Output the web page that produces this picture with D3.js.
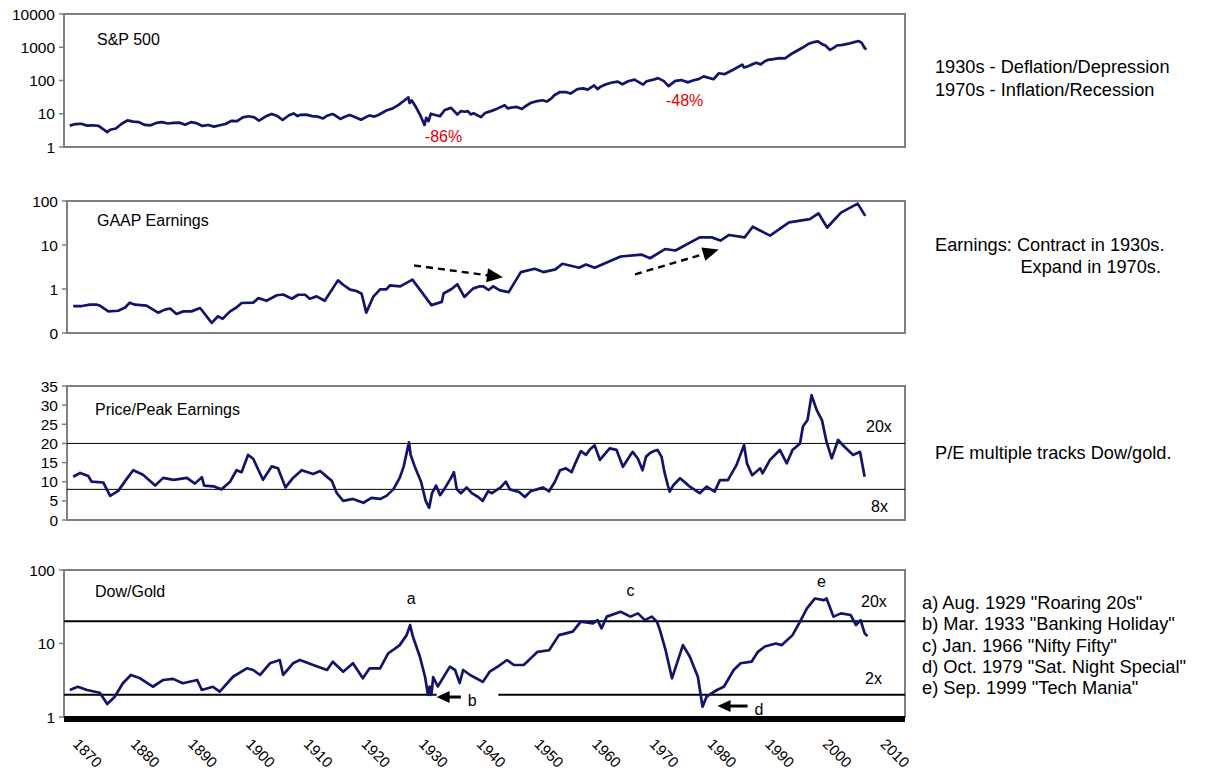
<!DOCTYPE html>
<html>
<head>
<meta charset="utf-8">
<script src="https://cdn.jsdelivr.net/npm/d3@7"></script>
<style>
  body { margin: 0; background: #fff; }
  text { font-family: Arial, "Liberation Sans", sans-serif; fill: #000; }
</style>
</head>
<body>
<div id="chart"></div>
<script>
// Data: [year, value]
const spx = [[1871,4.4],[1872,4.9],[1873,5.0],[1874,4.4],[1875,4.5],[1876,4.3],[1877.5,2.8],[1878,3.3],[1879,3.6],[1880,5.0],[1881,6.3],[1882,5.8],[1883,5.6],[1884,4.6],[1885,4.5],[1886,5.3],[1887,5.6],[1888,5.1],[1889,5.3],[1890,5.4],[1891,4.7],[1892,5.6],[1893,5.2],[1894,4.3],[1895,4.6],[1896,4.1],[1897,4.5],[1898,4.9],[1899,6.1],[1900,6.0],[1901,7.8],[1902,8.4],[1903,7.8],[1903.8,6.2],[1905,8.4],[1906,9.9],[1907,8.5],[1907.9,6.5],[1909,9.0],[1909.8,10.2],[1910.5,8.5],[1911,9.3],[1912,9.4],[1913,8.5],[1914,8.2],[1914.9,7.2],[1915.5,8.5],[1916.5,9.8],[1917,9.0],[1917.9,7.0],[1918.5,7.8],[1919.5,9.2],[1920,8.6],[1921.5,6.6],[1922.5,8.2],[1923,8.9],[1923.8,8.2],[1924.5,9.2],[1925.5,11.5],[1926,12.8],[1927,14.5],[1928,18.5],[1929,25],[1929.7,31],[1929.9,21],[1930.3,25],[1931,16],[1931.9,8],[1932.5,4.6],[1932.8,7.5],[1933.2,6.0],[1933.6,10],[1934.5,9.0],[1935.2,8.5],[1936,13],[1937.1,15],[1938.2,9.5],[1938.8,12],[1939.5,11.5],[1940,12],[1940.5,9.5],[1941,10.3],[1942.3,7.9],[1943,10.5],[1944,12],[1945,14],[1946.4,18],[1946.9,14.5],[1947.5,15.3],[1948.5,16],[1949.4,14],[1950,16.8],[1951,21.5],[1952,24],[1953,25.5],[1953.7,23.3],[1954.5,29],[1955,36],[1956,45],[1957,45],[1957.8,40.5],[1959,55],[1960,58],[1960.8,53],[1961.9,71],[1962.5,55],[1963,65],[1964,77],[1965,87],[1966,93],[1966.8,77],[1967.8,95],[1968.9,106],[1970.4,75],[1971,95],[1972,104],[1973,118],[1974,96],[1974.8,68],[1976,97],[1977,103],[1978.2,88],[1979,100],[1980,110],[1980.9,133],[1982.6,109],[1983.5,165],[1984.5,155],[1985,171],[1986,210],[1987.6,300],[1987.9,245],[1988.5,265],[1989,290],[1990,340],[1990.8,305],[1991.5,380],[1992,415],[1993,440],[1994,470],[1995,465],[1996,615],[1997,770],[1998,965],[1999,1250],[2000,1430],[2000.7,1500],[2001.5,1220],[2002,1130],[2002.8,830],[2003.5,980],[2004,1130],[2005,1180],[2006,1280],[2007,1425],[2007.8,1540],[2008.3,1350],[2008.8,950],[2009.1,850]]

const gaap = [[1871.6,0.41],[1873.1,0.41],[1874.5,0.44],[1875.7,0.44],[1876.2,0.42],[1877.7,0.31],[1879.4,0.32],[1880.6,0.38],[1881.4,0.49],[1882.3,0.44],[1884.3,0.42],[1886.3,0.29],[1887.5,0.34],[1888.4,0.36],[1889.5,0.27],[1890.7,0.31],[1892.1,0.31],[1893.6,0.37],[1895.6,0.17],[1896.7,0.24],[1897.5,0.21],[1898.8,0.31],[1899.9,0.38],[1900.8,0.48],[1902.8,0.49],[1903.7,0.62],[1905.1,0.54],[1906.9,0.72],[1908,0.75],[1909.5,0.6],[1910.6,0.74],[1911.8,0.74],[1912.6,0.6],[1913.8,0.68],[1915.2,0.54],[1917.5,1.57],[1918.4,1.25],[1919.6,0.97],[1920.7,0.9],[1921.6,0.78],[1922.4,0.29],[1923.6,0.66],[1924.8,0.98],[1925.9,0.98],[1926.5,1.21],[1928.3,1.15],[1930.4,1.63],[1933.7,0.43],[1935.5,0.51],[1935.8,0.79],[1937.2,1.0],[1938.2,1.28],[1939.4,0.66],[1940.9,1.02],[1942.1,1.15],[1942.7,1.15],[1943.6,0.95],[1944.4,1.15],[1945.6,0.93],[1947.1,0.85],[1949.2,2.42],[1951.6,2.88],[1953.1,2.42],[1955.2,2.8],[1956.4,3.74],[1959.3,3.04],[1960.5,3.6],[1962,3.04],[1966.5,5.47],[1970.1,6.07],[1971.6,5.0],[1974.2,8.1],[1976,7.5],[1980.2,14.9],[1982.3,14.9],[1983.8,12.6],[1985.3,16.9],[1988,14.9],[1989.4,26],[1992.4,16.3],[1995.7,32.6],[1999.3,38.8],[2000.8,52.5],[2002.3,25],[2004.7,54.5],[2007.6,87],[2008.9,46]]

const pe = [[1871.6,11.3],[1872.8,12.3],[1874.2,11.5],[1874.8,10],[1876.8,9.8],[1878,6.3],[1879.4,7.6],[1880.9,10.8],[1882,13],[1883.7,11.8],[1885.8,9],[1887.2,11],[1889,10.5],[1891.3,11],[1892.7,9.5],[1893.9,11.2],[1894.3,9],[1895.9,8.8],[1897.3,8],[1898.8,10],[1899.9,13],[1900.8,12.5],[1901.9,17],[1902.8,16],[1904.5,10.5],[1906,14],[1907.1,13.5],[1908.4,8.5],[1909.7,11],[1911.2,13],[1913.2,12],[1914.4,12.8],[1915.8,11],[1916.4,10.3],[1917.3,7],[1918.4,5],[1920.1,5.5],[1921.9,4.5],[1923.3,5.8],[1924.8,5.5],[1925.9,6.3],[1927.1,8],[1928.2,11],[1928.9,14],[1929.8,20.3],[1930.1,17],[1930.8,14],[1931.9,10],[1932.7,5],[1933.3,3.2],[1933.8,7],[1934.5,9],[1935.2,6.5],[1935.9,8],[1937.1,11],[1937.6,12.5],[1938.1,8],[1938.8,7],[1939.8,8.5],[1940.7,7],[1941.8,6],[1942.6,5],[1943.5,7.5],[1944.2,7],[1945.7,8.5],[1946.6,10],[1947.3,8],[1948.9,7.3],[1949.9,6],[1950.9,7.5],[1952,8],[1953,8.5],[1954.1,7.5],[1955.1,10],[1956,13],[1957,13.5],[1958,12.5],[1958.7,15],[1959.6,18],[1960.5,17],[1961.2,18.5],[1962,19.5],[1962.9,15.7],[1964.6,18.7],[1965.8,18.3],[1966.9,13.9],[1968.2,17],[1968.6,17.8],[1969.5,16],[1970.3,13],[1970.9,16.5],[1971.6,17.5],[1972.3,18],[1972.9,18.3],[1973.6,16.5],[1974.1,12.5],[1974.7,9],[1975,7.4],[1975.6,9],[1976.8,10.9],[1977.9,9.5],[1978.5,8.7],[1980.2,7],[1981.4,8.7],[1982.8,7.4],[1983.7,10.4],[1985.1,10.4],[1986.6,14.4],[1987.9,19.6],[1988.4,14.8],[1989.3,11.7],[1990.7,13.5],[1991.1,12.2],[1992.4,15.7],[1994.1,18.3],[1995.3,14.8],[1996.3,18.3],[1997.6,20],[1998.1,24.4],[1998.9,26.1],[1999.6,32.6],[2000.5,28.7],[2001.4,26.1],[2002.2,20.4],[2003.1,16.1],[2004.2,20.9],[2005,19.6],[2006.8,17],[2008,17.8],[2008.8,11.3]]

const dowGold = [[1871,2.33],[1872.4,2.58],[1874,2.33],[1876.2,2.14],[1877.5,1.5],[1878.8,1.89],[1880.2,2.88],[1881.6,3.73],[1883.2,3.36],[1885.4,2.58],[1887.2,3.19],[1888.9,3.3],[1890.6,2.88],[1893.1,3.19],[1893.9,2.33],[1895.8,2.58],[1897,2.21],[1899.3,3.53],[1901.7,4.6],[1902.8,4.36],[1904,3.73],[1905.7,5.38],[1907.4,5.96],[1908,3.73],[1909.7,5.38],[1910.9,5.96],[1913.2,5.1],[1915.6,4.36],[1916.6,5.66],[1918.4,4.13],[1920.1,5.38],[1921.8,3.36],[1923,4.6],[1924.8,4.6],[1926.2,7.36],[1927,8.1],[1928.2,9.5],[1929.4,13],[1930,17.8],[1930.5,12.3],[1931.7,6.6],[1932.6,3.5],[1933.1,2.0],[1933.4,2.6],[1933.7,2.0],[1934,3.5],[1934.8,2.6],[1936.9,4.84],[1937.8,4.36],[1938.6,2.9],[1939.2,4.36],[1940.4,3.73],[1942.6,3.0],[1943.8,4.13],[1945.2,4.84],[1946.8,5.96],[1948,5.1],[1949.7,5.1],[1952.1,7.7],[1954.1,8.1],[1955.8,13],[1958.2,14.5],[1959.6,19.8],[1961.7,18.8],[1962.5,20.8],[1963.2,16.1],[1964.1,23.2],[1966.5,27],[1968.2,23.2],[1969.5,25.7],[1970.7,20.8],[1971.9,23.2],[1972.8,19.8],[1973.3,15.3],[1974.3,8.1],[1975.4,3.36],[1977.3,9.5],[1978.5,6.6],[1979.9,3.5],[1980.7,1.38],[1981.4,1.89],[1983.2,2.33],[1984.4,2.58],[1986.1,4.36],[1987.3,5.38],[1989.2,5.66],[1990.3,7.7],[1991.5,9.1],[1993.4,10],[1994.4,9.5],[1996.3,13],[1997.6,19.8],[1998.8,30],[2000.2,41],[2001.7,39],[2002.2,41],[2003.4,23.2],[2004.7,25.7],[2006.4,24.4],[2007.3,17.8],[2008.1,20.8],[2008.8,13.8],[2009.3,12.6]]

// Tick values and labels
const decades = [1870,1880,1890,1900,1910,1920,1930,1940,1950,1960,1970,1980,1990,2000,2010]
const spTicks = [1,10,100,1000,10000]
const gaapTicks = [0.1,1,10,100]
const gaapTickLabels = ['0','1','10','100']
const peTicks = [0,5,10,15,20,25,30,35]
const dgTicks = [1,10,100]
const peBands = [20,8]
const dgBands = [20,2]

const notesRight = ['1930s - Deflation/Depression','1970s - Inflation/Recession']
const earnNotes = ['Earnings: Contract in 1930s.','Expand in 1970s.']
const legendLines = ['a) Aug. 1929 "Roaring 20s"','b) Mar. 1933 "Banking Holiday"','c) Jan. 1966 "Nifty Fifty"','d) Oct. 1979 "Sat. Night Special"','e) Sep. 1999 "Tech Mania"']

const LINE = '#13136b'
const FRAME = '#7f7f7f'
const RIGHT = 905

const svg = d3.select('#chart').append('svg')
  .attr('width', 1206).attr('height', 770)

const x = d3.scaleLinear().domain([1870, 2015.8]).range([64, RIGHT])

// Draw one panel: frame, y ticks, title
function panel (opt) {
  const g = svg.append('g')
  const [y0, y1] = opt.y.range()
  g.append('rect')
    .attr('x', opt.left).attr('y', y1)
    .attr('width', RIGHT - opt.left).attr('height', y0 - y1)
    .attr('fill', 'none').attr('stroke', FRAME).attr('stroke-width', 2)
  g.selectAll('.tk').data(opt.ticks).enter().append('line')
    .attr('x1', opt.left - 5).attr('x2', opt.left)
    .attr('y1', d => opt.y(d)).attr('y2', d => opt.y(d))
    .attr('stroke', FRAME).attr('stroke-width', 1.5)
  g.selectAll('.tl').data(opt.ticks).enter().append('text')
    .attr('x', opt.left - 9).attr('y', d => opt.y(d))
    .attr('dy', '0.36em').attr('text-anchor', 'end')
    .style('font-size', '15.5px')
    .text((d, i) => opt.labels ? opt.labels[i] : d)
  g.append('text').attr('x', opt.tx).attr('y', opt.ty)
    .style('font-size', '16px').text(opt.title)
  return g
}

function drawLine (g, data, y) {
  g.append('path').datum(data)
    .attr('d', d3.line().x(d => x(d[0])).y(d => y(d[1])))
    .attr('fill', 'none').attr('stroke', LINE)
    .attr('stroke-width', 2.7).attr('stroke-linejoin', 'round')
}

function arrowHead (g, tip, from, len, half) {
  const dx = tip[0] - from[0]; const dy = tip[1] - from[1]
  const l = Math.hypot(dx, dy); const ux = dx / l; const uy = dy / l
  const bx = tip[0] - ux * len; const by = tip[1] - uy * len
  g.append('polygon')
    .attr('points', [[tip[0], tip[1]], [bx - uy * half, by + ux * half], [bx + uy * half, by - ux * half]].join(' '))
    .attr('fill', '#000')
}

// Panel 1: S&P 500
const y1 = d3.scaleLog().domain([1, 10000]).range([147, 14])
const g1 = panel({ y: y1, left: 64, ticks: spTicks, title: 'S&P 500', tx: 97, ty: 45 })
drawLine(g1, spx, y1)
g1.append('text').attr('x', x(1935.8)).attr('y', y1(1) - 5).attr('text-anchor', 'middle')
  .style('font-size', '16px').style('fill', '#e00000').text('-86%')
g1.append('text').attr('x', x(1977.6)).attr('y', y1(1) - 41).attr('text-anchor', 'middle')
  .style('font-size', '16px').style('fill', '#e00000').text('-48%')

// Panel 2: GAAP Earnings
const y2 = d3.scaleLog().domain([0.1, 100]).range([333, 201])
const g2 = panel({ y: y2, left: 67, ticks: gaapTicks, labels: gaapTickLabels, title: 'GAAP Earnings', tx: 97, ty: 226 })
drawLine(g2, gaap, y2)
const dashArrows = [[[1930.7, 3.43], [1946.1, 1.84]], [[1969.0, 2.15], [1983.5, 7.87]]]
dashArrows.forEach(a => {
  const p0 = [x(a[0][0]), y2(a[0][1])]; const p1 = [x(a[1][0]), y2(a[1][1])]
  const l = Math.hypot(p1[0] - p0[0], p1[1] - p0[1])
  const e = [p0[0] + (p1[0] - p0[0]) * (l - 12) / l, p0[1] + (p1[1] - p0[1]) * (l - 12) / l]
  g2.append('line').attr('x1', p0[0]).attr('y1', p0[1]).attr('x2', e[0]).attr('y2', e[1])
    .attr('stroke', '#000').attr('stroke-width', 2.4).attr('stroke-dasharray', '7,5')
  arrowHead(g2, p1, p0, 16, 7)
})

// Panel 3: Price/Peak Earnings
const y3 = d3.scaleLinear().domain([0, 35]).range([520, 386])
const g3 = panel({ y: y3, left: 67, ticks: peTicks, title: 'Price/Peak Earnings', tx: 95, ty: 415 })
g3.selectAll('.band').data(peBands).enter().append('line')
  .attr('x1', 67).attr('x2', RIGHT).attr('y1', d => y3(d)).attr('y2', d => y3(d))
  .attr('stroke', '#000').attr('stroke-width', 1)
drawLine(g3, pe, y3)
g3.append('text').attr('x', 866).attr('y', y3(20) - 11).style('font-size', '16px').text('20x')
g3.append('text').attr('x', 871).attr('y', y3(8) + 23).style('font-size', '16px').text('8x')

// Panel 4: Dow/Gold
const y4 = d3.scaleLog().domain([1, 100]).range([717, 570])
const g4 = panel({ y: y4, left: 64, ticks: dgTicks, title: 'Dow/Gold', tx: 95, ty: 597 })
g4.append('line').attr('x1', 64).attr('x2', RIGHT).attr('y1', y4(dgBands[0])).attr('y2', y4(dgBands[0]))
  .attr('stroke', '#000').attr('stroke-width', 2)
const gapYears = [1934.6, 1945.3]
g4.append('line').attr('x1', 64).attr('x2', x(gapYears[0])).attr('y1', y4(dgBands[1])).attr('y2', y4(dgBands[1]))
  .attr('stroke', '#000').attr('stroke-width', 2)
g4.append('line').attr('x1', x(gapYears[1])).attr('x2', RIGHT).attr('y1', y4(dgBands[1])).attr('y2', y4(dgBands[1]))
  .attr('stroke', '#000').attr('stroke-width', 2)
g4.append('rect').attr('x', 64).attr('y', 716).attr('width', RIGHT - 64).attr('height', 6).attr('fill', '#000')
drawLine(g4, dowGold, y4)
g4.append('text').attr('x', 861).attr('y', y4(20) - 14).style('font-size', '16px').text('20x')
g4.append('text').attr('x', 865).attr('y', y4(2) - 11).style('font-size', '16px').text('2x')

const peakNotes = [['a', 1930.2, 604], ['c', 1968.2, 596], ['e', 2001.3, 587]]
peakNotes.forEach(n => {
  g4.append('text').attr('x', x(n[1])).attr('y', n[2]).attr('text-anchor', 'middle')
    .style('font-size', '16px').text(n[0])
})
const sideArrows = [['b', 1934.6, 1938.8, 1.87], ['d', 1983.3, 1988.5, 1.41]]
sideArrows.forEach(a => {
  const tip = [x(a[1]), y4(a[3])]; const tail = [x(a[2]), y4(a[3])]
  g4.append('line').attr('x1', tip[0] + 10).attr('x2', tail[0]).attr('y1', tip[1]).attr('y2', tail[1])
    .attr('stroke', '#000').attr('stroke-width', 3)
  arrowHead(g4, tip, tail, 13, 6)
  g4.append('text').attr('x', tail[0] + 7).attr('y', tip[1] + 9).style('font-size', '16px').text(a[0])
})

// X axis labels, rotated
svg.selectAll('.xl').data(decades).enter().append('text')
  .attr('transform', d => `translate(${x(d) + 8},745) rotate(45)`)
  .style('font-size', '15px').text(d => d)

// Right-hand notes
notesRight.forEach((t, i) => {
  svg.append('text').attr('x', 935).attr('y', 73 + i * 23).style('font-size', '18.2px').text(t)
})
svg.append('text').attr('x', 935).attr('y', 251).style('font-size', '18.2px').text(earnNotes[0])
svg.append('text').attr('x', 1161).attr('y', 273).attr('text-anchor', 'end').style('font-size', '18.2px').text(earnNotes[1])
svg.append('text').attr('x', 935).attr('y', 459).style('font-size', '18.2px').text('P/E multiple tracks Dow/gold.')
legendLines.forEach((t, i) => {
  svg.append('text').attr('x', 922).attr('y', 609 + i * 21.3).style('font-size', '18.3px').text(t)
})
</script>
</body>
</html>
